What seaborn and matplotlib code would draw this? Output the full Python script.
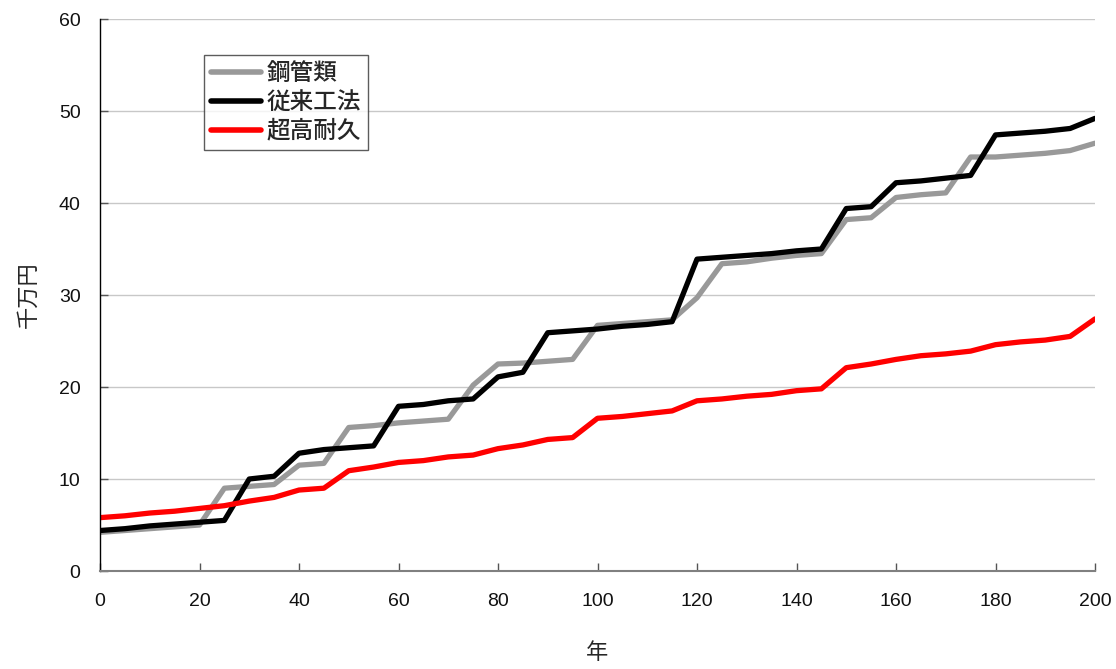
import numpy as np
import pandas as pd
import matplotlib
matplotlib.use("Agg")
import matplotlib.pyplot as plt
import seaborn as sns

years = list(range(0, 201, 5))
steel = [4.2, 4.4, 4.6, 4.8, 5.0, 9.0, 9.2, 9.4, 11.5, 11.7,
         15.6, 15.8, 16.1, 16.3, 16.5, 20.2, 22.5, 22.6, 22.8, 23.0,
         26.7, 26.9, 27.1, 27.3, 29.7, 33.4, 33.6, 34.0, 34.3, 34.5,
         38.2, 38.4, 40.6, 40.9, 41.1, 45.0, 45.0, 45.2, 45.4, 45.7, 46.5]
conventional = [4.4, 4.6, 4.9, 5.1, 5.3, 5.5, 10.0, 10.3, 12.8, 13.2,
                13.4, 13.6, 17.9, 18.1, 18.5, 18.7, 21.1, 21.6, 25.9, 26.1,
                26.3, 26.6, 26.8, 27.1, 33.9, 34.1, 34.3, 34.5, 34.8, 35.0,
                39.4, 39.6, 42.2, 42.4, 42.7, 43.0, 47.4, 47.6, 47.8, 48.1, 49.2]
durable = [5.8, 6.0, 6.3, 6.5, 6.8, 7.1, 7.6, 8.0, 8.8, 9.0,
           10.9, 11.3, 11.8, 12.0, 12.4, 12.6, 13.3, 13.7, 14.3, 14.5,
           16.6, 16.8, 17.1, 17.4, 18.5, 18.7, 19.0, 19.2, 19.6, 19.8,
           22.1, 22.5, 23.0, 23.4, 23.6, 23.9, 24.6, 24.9, 25.1, 25.5, 27.4]
series_names = ["鋼管類", "従来工法", "超高耐久"]
colors = ["#999999", "#000000", "#ff0000"]
x_ticks = list(range(0, 201, 20))
y_ticks = list(range(0, 61, 10))

df = pd.concat([
    pd.DataFrame({"年": years, "千万円": vals, "series": name})
    for name, vals in zip(series_names, [steel, conventional, durable])
])

sns.set_theme(style="white")
plt.rcParams['font.family'] = ['Liberation Sans', 'Noto Sans CJK JP', 'DejaVu Sans']

fig = plt.figure(figsize=(11.16, 6.69), dpi=100)
ax = fig.add_axes([100/1116, (669-571)/669, (1095-100)/1116, (571-19)/669])

sns.lineplot(data=df, x="年", y="千万円", hue="series", hue_order=series_names,
             palette=colors, linewidth=3.8, ax=ax, legend=True)

ax.set_xlim(0, 200)
ax.set_ylim(0, 60)
ax.set_xticks(x_ticks)
ax.set_yticks(y_ticks)
ax.yaxis.grid(True, color="#c8c8c8", linewidth=1.0)
ax.xaxis.grid(False)
ax.set_axisbelow(True)
for s in ["top", "right"]:
    ax.spines[s].set_visible(False)
ax.spines["left"].set_color("#000000")
ax.spines["bottom"].set_color("#808080")
ax.spines["left"].set_linewidth(1.0)
ax.spines["bottom"].set_linewidth(1.5)
ax.tick_params(axis="both", direction="in", length=6, width=1, labelsize=14,
               color="#555555", bottom=True, left=True, labelcolor="#111111")
ax.tick_params(axis="x", pad=16)
ax.tick_params(axis="y", pad=14)

cjk = ['Noto Sans CJK JP', 'DejaVu Sans']
ax.set_xlabel("年", fontsize=16, family=cjk, labelpad=22)
ax.set_ylabel("千万円", fontsize=16, family=cjk, labelpad=14)

handles, labels = ax.get_legend_handles_labels()
leg = ax.legend(handles, labels, loc="upper left", bbox_to_anchor=(0.1045, 0.935),
                prop={'family': cjk, 'size': 17, 'weight': 'medium'}, frameon=True,
                fancybox=False, edgecolor="#333333", handlelength=2.1, labelspacing=0.25,
                handletextpad=0.25, borderpad=0.3, borderaxespad=0)
leg.get_frame().set_linewidth(1.0)
for line in leg.get_lines():
    line.set_linewidth(4)

fig.savefig("out.png", dpi=100)
